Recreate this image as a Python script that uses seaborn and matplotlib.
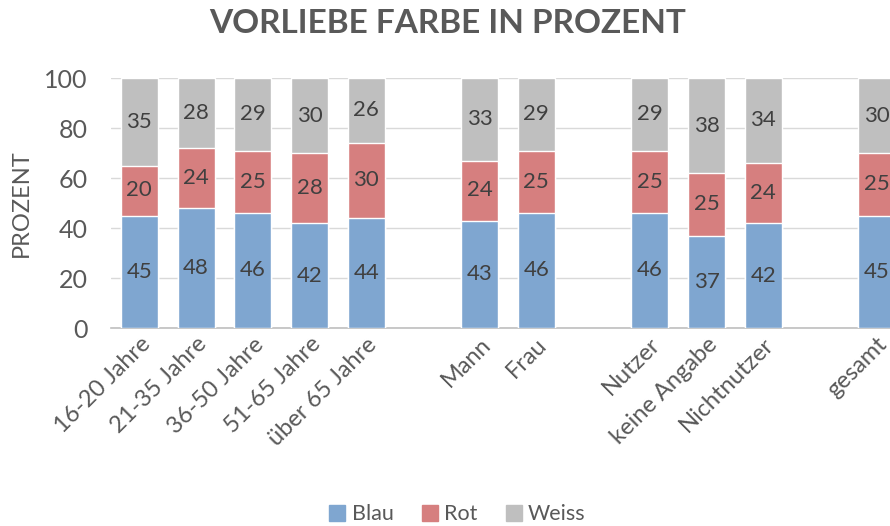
import matplotlib
matplotlib.use("Agg")
import matplotlib.pyplot as plt
import seaborn as sns
import pandas as pd
from matplotlib.patches import Patch

# data (blank slots keep the group gaps)
categories = ["16-20 Jahre", "21-35 Jahre", "36-50 Jahre", "51-65 Jahre", "über 65 Jahre",
              " ", "Mann", "Frau", "  ", "Nutzer", "keine Angabe", "Nichtnutzer", "   ", "gesamt"]
groups = ["16-20 Jahre", "21-35 Jahre", "36-50 Jahre", "51-65 Jahre", "über 65 Jahre",
          "Mann", "Frau", "Nutzer", "keine Angabe", "Nichtnutzer", "gesamt"]
blau = [45, 48, 46, 42, 44, 43, 46, 46, 37, 42, 45]
rot = [20, 24, 25, 28, 30, 24, 25, 25, 25, 24, 25]
weiss = [35, 28, 29, 30, 26, 33, 29, 29, 38, 34, 30]

c_blau, c_rot, c_weiss = "#7FA6D0", "#D67F7F", "#BFBFBF"
txt = "#595959"

df = pd.DataFrame({"cat": groups, "Blau": blau, "Rot": rot, "Weiss": weiss})
df["br"] = df["Blau"] + df["Rot"]
df["total"] = df["br"] + df["Weiss"]

sns.set_theme(style="white")
plt.rcParams["font.family"] = ["Lato", "DejaVu Sans"]

fig = plt.figure(figsize=(8.9, 5.26), dpi=100)
ax = fig.add_axes([111 / 890, 198 / 526, 794 / 890, 250 / 526])

w = 0.65
sns.barplot(data=df, x="cat", y="total", order=categories, color=c_weiss, width=w,
            saturation=1, ax=ax, zorder=2)
sns.barplot(data=df, x="cat", y="br", order=categories, color=c_rot, width=w,
            saturation=1, ax=ax, zorder=3)
sns.barplot(data=df, x="cat", y="Blau", order=categories, color=c_blau, width=w,
            saturation=1, ax=ax, zorder=4)

# segment labels
for _, r in df.iterrows():
    xi = categories.index(r["cat"])
    for lo, v in [(0, r["Blau"]), (r["Blau"], r["Rot"]), (r["br"], r["Weiss"])]:
        ax.text(xi, lo + v / 2, f"{v}", ha="center", va="center", fontsize=16,
                color="#404040", zorder=5)

ax.set_ylim(0, 100)
ax.set_xlim(-0.5, len(categories) - 0.5)
ax.set_yticks(range(0, 101, 20))
ax.yaxis.grid(True, color="#D9D9D9", lw=1, zorder=0)
ax.set_axisbelow(True)
for s in ["left", "right", "top"]:
    ax.spines[s].set_visible(False)
ax.spines["bottom"].set_color("#BFBFBF")
ax.spines["bottom"].set_linewidth(1.2)
ax.tick_params(axis="y", labelsize=18, colors=txt, length=0, pad=17)
ax.tick_params(axis="x", labelsize=17, colors=txt, length=0, pad=4)
plt.setp(ax.get_xticklabels(), rotation=45, ha="right", rotation_mode="anchor")
ax.set_xlabel("")
ax.set_ylabel("PROZENT", fontsize=17, color=txt)
ax.yaxis.set_label_coords(-0.1, 0.5)

fig.text(0.503, 0.956, "VORLIEBE FARBE IN PROZENT", ha="center", va="center",
         fontsize=24, fontweight="bold", color=txt)

handles = [Patch(color=c_blau, label="Blau"), Patch(color=c_rot, label="Rot"),
           Patch(color=c_weiss, label="Weiss")]
fig.legend(handles=handles, loc="center", bbox_to_anchor=(0.514, 0.022), ncol=3,
           frameon=False, fontsize=15.5, labelcolor=txt, handlelength=0.75,
           handleheight=0.75, handletextpad=0.3, columnspacing=1.3)

fig.savefig("out.png", dpi=100)
